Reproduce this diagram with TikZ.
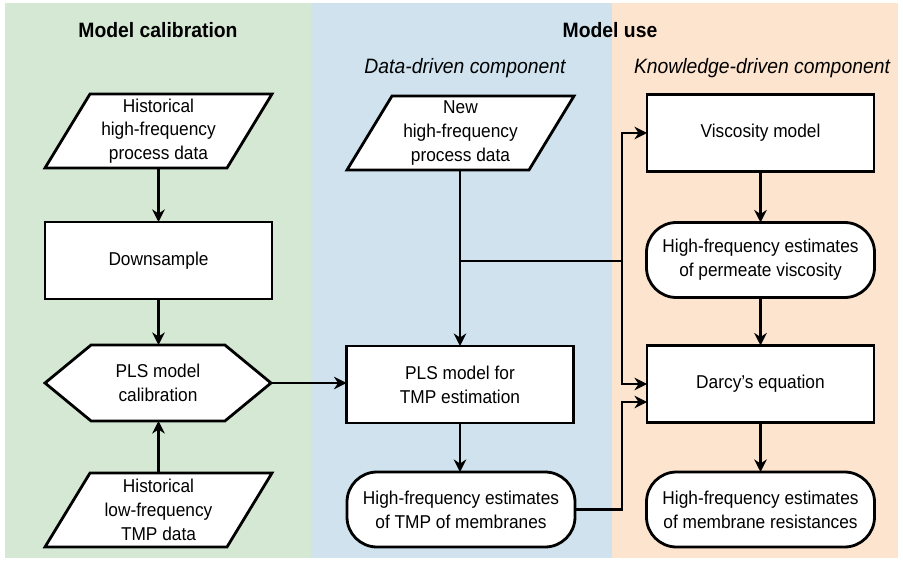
\documentclass[tikz,border=0pt]{standalone}
\usepackage{fontspec}
\setmainfont{Liberation Sans}[FakeStretch=0.93]
\usetikzlibrary{shapes.symbols,arrows.meta}

\definecolor{calibfill}{RGB}{213,232,212}
\definecolor{datafill}{RGB}{207,226,238}
\definecolor{knowfill}{RGB}{253,228,206}

\pgfdeclarelayer{panels}
\pgfdeclarelayer{outlines}
\pgfsetlayers{panels,outlines,main}

\begin{document}
\begin{tikzpicture}[x=1pt,y=-1pt,
  every node/.style={font=\fontsize{18.6}{23.8}\selectfont, align=center, inner sep=0pt, outer sep=0pt},
  heading/.style={font=\fontsize{20.8}{23}\selectfont\bfseries},
  subheading/.style={font=\fontsize{20.8}{23}\selectfont\itshape},
  blk/.style={draw, line width=2.8pt, fill=white},
  procbox/.style={blk, rectangle, minimum width=227pt, minimum height=77pt},
  iobox/.style={rectangle, minimum width=227pt, minimum height=74pt},
  slanted/.style={blk, line join=miter},
  pill/.style={blk, rectangle, rounded corners=30pt, minimum width=228pt, minimum height=75pt},
  hexbox/.style={blk, signal, signal to=west and east, signal pointer angle=79,
    minimum width=226pt, minimum height=76pt},
  flow/.style={line width=2.8pt, -{Stealth[length=12.5pt,width=12.5pt,inset=4pt]}},
  wire/.style={line width=2.8pt}
]
\useasboundingbox (0,0) rectangle (903,564);

% column backgrounds
\begin{pgfonlayer}{panels}
\fill[calibfill] (5,3) rectangle (311,558);
\fill[datafill] (311,3) rectangle (612,558);
\fill[knowfill] (612,3) rectangle (898,558);
\end{pgfonlayer}

% headings
\node[heading] (tcal) at (158,30) {Model calibration};
\node[heading] (tuse) at (610,30) {Model use};
\node[subheading] (tdata) at (465,68) {Data-driven component};
\node[subheading] (tknow) at (762,68) {Knowledge-driven component};

% model calibration
\node[iobox] (hhist) at (158.5,131) {Historical\\high-frequency\\process data};
\node[procbox] (down) at (158.5,260.5) {Downsample};
\node[hexbox] (hex) at (158,383) {PLS model\\calibration};
\node[iobox] (hlow) at (158.5,510) {Historical\\low-frequency\\TMP data};

% data-driven component
\node[iobox] (newd) at (460.5,133) {New\\high-frequency\\process data};
\node[procbox] (plsT) at (460,384.5) {PLS model for\\TMP estimation};
\node[pill] (tmpp) at (461,509.5) {High-frequency estimates\\of TMP of membranes};

% knowledge-driven component
\node[procbox] (visc) at (760.5,133) {Viscosity model};
\node[pill] (pvisc) at (760.5,260) {High-frequency estimates\\of permeate viscosity};
\node[procbox] (darcy) at (760.5,384) {Darcy's equation};
\node[pill] (mres) at (760.5,509.5) {High-frequency estimates\\of membrane resistances};

% data parallelograms, drawn under their text
\begin{pgfonlayer}{outlines}
\foreach \n in {hhist,hlow,newd}
  \draw[slanted] (\n.south west) -- ([xshift=-45pt]\n.south east)
    -- (\n.north east) -- ([xshift=45pt]\n.north west) -- cycle;
\end{pgfonlayer}

% junctions
\coordinate (split) at (460,261);
\coordinate (bus) at (622,261);
\coordinate (lowbus) at (622,402);

% connectors
\draw[flow] (hhist.south -| down.north) -- (down.north);
\draw[flow] (down.south) -- (down.south |- hex.north);
\draw[flow] (hlow.north -| down.south) -- (down.south |- hex.south);
\draw[flow] (hex.east) -- (hex.east -| plsT.west);

\draw[flow] (newd.south -| plsT.north) -- (plsT.north);
\draw[wire] (split) -- (bus);
\draw[flow] (bus) |- (visc.west);
\draw[flow] (bus) |- (darcy.west);
\draw[flow] (plsT.south) -- (tmpp.north -| plsT.south);
\draw[flow] (tmpp.east) -| (lowbus) -- ([yshift=-18pt]darcy.west);

\draw[flow] (visc.south) -- (pvisc.north);
\draw[flow] (pvisc.south) -- (darcy.north);
\draw[flow] (darcy.south) -- (mres.north);
\end{tikzpicture}
\end{document}
